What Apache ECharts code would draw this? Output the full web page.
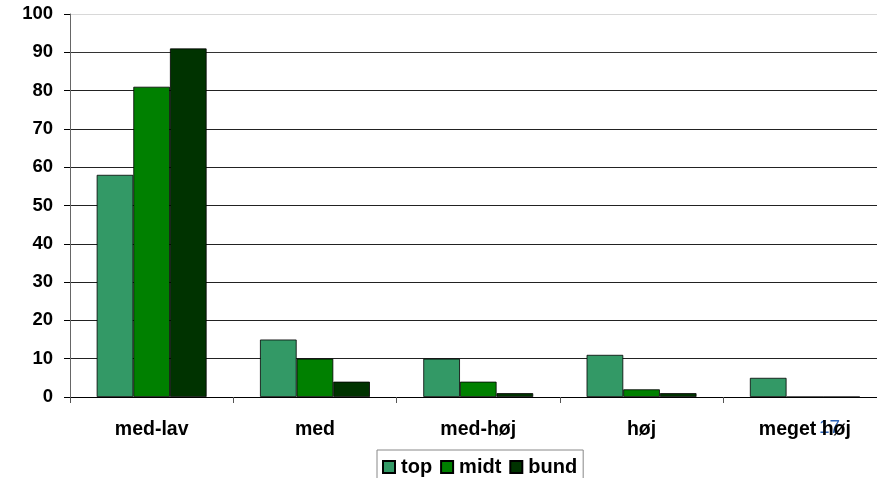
<!DOCTYPE html>
<html>
<head>
<meta charset="utf-8">
<script src="https://cdn.jsdelivr.net/npm/echarts@6/dist/echarts.min.js"></script>
<style>
  html, body { margin: 0; padding: 0; background: #fff; }
  #chart { width: 877px; height: 478px; }
</style>
</head>
<body>
<div id="chart"></div>
<script>
const categories = ['med-lav', 'med', 'med-høj', 'høj', 'meget høj'];
const topValues  = [58, 15, 10, 11, 5];
const midtValues = [81, 10, 4, 2, 0];
const bundValues = [91, 4, 1, 1, 0];
const yTicks = { min: 0, max: 100, interval: 10 };

const font = 'Liberation Sans, Arial, sans-serif';
const chart = echarts.init(document.getElementById('chart'));

function bar(name, data, color) {
  return {
    name, type: 'bar', data,
    barGap: '0%', barCategoryGap: '32.7%',
    itemStyle: { color, borderColor: '#000', borderWidth: 0.8 },
    emphasis: { disabled: true }
  };
}

// grid lines: dark, except the faint top line at 100
const gridColors = ['#000', '#222', '#222', '#222', '#222', '#222', '#222', '#222', '#222', '#333', '#d8d8d8'];

chart.setOption({
  animation: false,
  grid: { left: 70, top: 14, width: 816.5, height: 383, outerBoundsMode: 'none', containLabel: false },
  xAxis: {
    type: 'category', data: categories,
    axisLine: { lineStyle: { color: '#000', width: 1 } },
    axisTick: { show: true, length: 6, lineStyle: { color: '#555' } },
    axisLabel: { color: '#000', fontFamily: font, fontWeight: 'bold', fontSize: 19.5, margin: 23 }
  },
  yAxis: {
    type: 'value', min: yTicks.min, max: yTicks.max, interval: yTicks.interval,
    axisLine: { show: true, lineStyle: { color: '#666', width: 1 } },
    axisTick: { show: true, length: 6, lineStyle: { color: '#000' } },
    axisLabel: { color: '#000', fontFamily: font, fontWeight: 'bold', fontSize: 18.5, margin: 17 },
    splitLine: { lineStyle: { color: gridColors, width: 1 } }
  },
  legend: {
    left: 377, top: 450,
    itemWidth: 12, itemHeight: 12, itemGap: 8,
    padding: [7, 6, 6, 5],
    borderColor: '#888', borderWidth: 1,
    icon: 'rect',
    textStyle: { color: '#000', fontFamily: font, fontWeight: 'bold', fontSize: 20, padding: [0, 0, 0, 1] },
    data: ['top', 'midt', 'bund']
  },
  graphic: [{
    type: 'text', left: 819, top: 418,
    style: { text: '17', fill: '#2a62b8', font: '19px ' + font }
  }],
  series: [
    bar('top', topValues, '#339966'),
    bar('midt', midtValues, '#008000'),
    bar('bund', bundValues, '#003300')
  ]
});
</script>
</body>
</html>
